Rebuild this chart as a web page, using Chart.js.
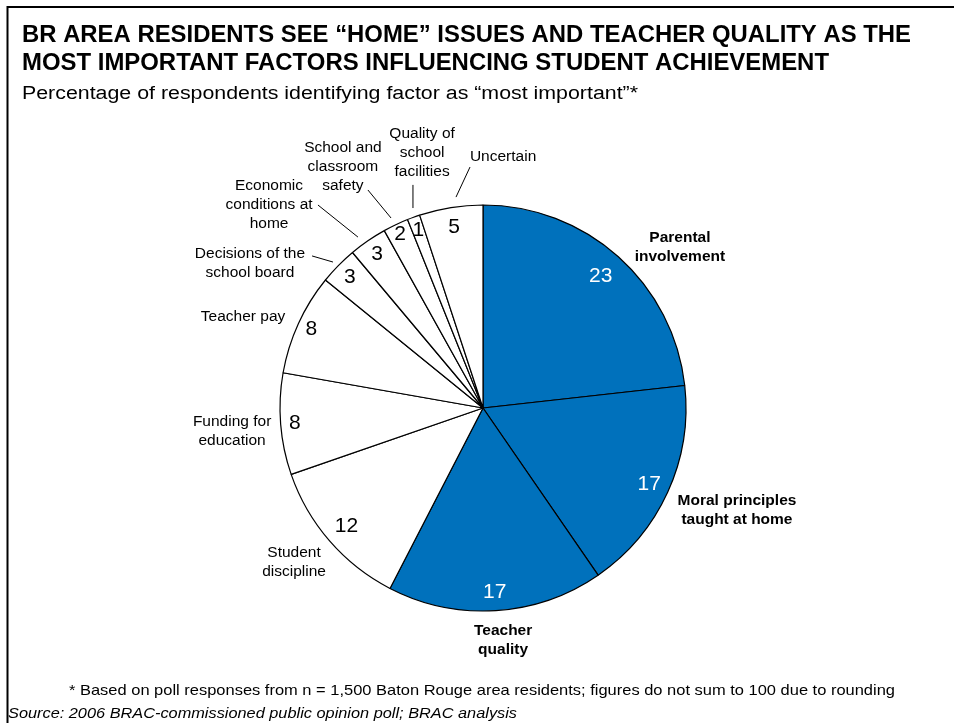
<!DOCTYPE html>
<html>
<head>
<meta charset="utf-8">
<title>BR area residents: factors influencing student achievement</title>
<script src="https://cdn.jsdelivr.net/npm/chart.js@4.4.1/dist/chart.umd.min.js"></script>
<style>
  html, body { margin: 0; padding: 0; background: #fff; }
  #wrap { width: 954px; height: 723px; position: relative; }
  canvas { display: block; }
</style>
</head>
<body>
<div id="wrap"><canvas id="pie" width="954" height="723"></canvas></div>
<script>
// ---- data ----
const categories = [
  'Parental involvement',
  'Moral principles taught at home',
  'Teacher quality',
  'Student discipline',
  'Funding for education',
  'Teacher pay',
  'Decisions of the school board',
  'Economic conditions at home',
  'School and classroom safety',
  'Quality of school facilities',
  'Uncertain'
];
const percentages = [23, 17, 17, 12, 8, 8, 3, 3, 2, 1, 5];
const homeAndTeacher = [true, true, true, false, false, false, false, false, false, false, false];
const nameLines = [
  ['Parental', 'involvement'],
  ['Moral principles', 'taught at home'],
  ['Teacher', 'quality'],
  ['Student', 'discipline'],
  ['Funding for', 'education'],
  ['Teacher pay'],
  ['Decisions of the', 'school board'],
  ['Economic', 'conditions at', 'home'],
  ['School and', 'classroom', 'safety'],
  ['Quality of', 'school', 'facilities'],
  ['Uncertain']
];

// ---- layout of annotations (in units of the pie radius) ----
const BLUE = '#0071BC';
const FONT = '"Liberation Sans", Arial, sans-serif';
// radial position of the value inside each slice
const valueRadius = [0.87, 0.90, 0.91, 0.89, 0.93, 0.93, 0.92, 0.92, 0.95, 0.93, 0.90];
// centre of each category name block, relative to the pie centre
const nameOffset = [
  [0.970, -0.793], [1.251, 0.502], [0.099, 1.143], [-0.931, 0.759],
  [-1.236, 0.113], [-1.182, -0.448], [-1.148, -0.714], [-1.054, -1.000],
  [-0.690, -1.187], [-0.300, -1.256], [0.099, -1.236]
];
// leader lines for the thin slices: [fromX, fromY, toX, toY]
const leaders = [
  null, null, null, null, null, null,
  [-0.739, -0.719, -0.842, -0.749],
  [-0.616, -0.842, -0.813, -1.000],
  [-0.453, -0.936, -0.567, -1.074],
  [-0.345, -0.985, -0.345, -1.099],
  [-0.133, -1.039, -0.064, -1.187]
];

function fitText(ctx, text, x, y, width, align) {
  const w = ctx.measureText(text).width;
  const s = width / w;
  ctx.save();
  ctx.translate(x, y);
  ctx.scale(s, 1);
  ctx.textAlign = align || 'left';
  ctx.fillText(text, 0, 0);
  ctx.restore();
}

const annotations = {
  id: 'annotations',
  afterDraw(chart) {
    const ctx = chart.ctx;
    const arcs = chart.getDatasetMeta(0).data;
    if (!arcs.length) return;
    const cx = arcs[0].x, cy = arcs[0].y, R = arcs[0].outerRadius;

    ctx.save();
    // frame
    ctx.strokeStyle = '#000';
    ctx.lineWidth = 2;
    ctx.beginPath();
    ctx.moveTo(954, 7);
    ctx.lineTo(7.5, 7);
    ctx.lineTo(7.5, 723);
    ctx.stroke();

    // headings
    ctx.fillStyle = '#000';
    ctx.textBaseline = 'alphabetic';
    ctx.font = 'bold 23px ' + FONT;
    fitText(ctx, 'BR AREA RESIDENTS SEE \u201CHOME\u201D ISSUES AND TEACHER QUALITY AS THE', 22, 42, 889);
    fitText(ctx, 'MOST IMPORTANT FACTORS INFLUENCING STUDENT ACHIEVEMENT', 22, 70, 807);
    ctx.font = '18px ' + FONT;
    fitText(ctx, 'Percentage of respondents identifying factor as \u201Cmost important\u201D*', 22, 99, 616);
    ctx.font = '15px ' + FONT;
    fitText(ctx, '* Based on poll responses from n = 1,500 Baton Rouge area residents; figures do not sum to 100 due to rounding', 69, 695, 826);
    ctx.font = 'italic 15px ' + FONT;
    fitText(ctx, 'Source: 2006 BRAC-commissioned public opinion poll; BRAC analysis', 8, 718, 509);

    // values inside slices
    ctx.textAlign = 'center';
    ctx.textBaseline = 'middle';
    ctx.font = '21px ' + FONT;
    arcs.forEach((arc, i) => {
      const mid = (arc.startAngle + arc.endAngle) / 2;
      const r = R * valueRadius[i];
      ctx.fillStyle = homeAndTeacher[i] ? '#fff' : '#000';
      ctx.fillText(String(percentages[i]), cx + Math.cos(mid) * r, cy + Math.sin(mid) * r);
    });

    // leader lines
    ctx.strokeStyle = '#000';
    ctx.lineWidth = 1;
    leaders.forEach(l => {
      if (!l) return;
      ctx.beginPath();
      ctx.moveTo(cx + l[0] * R, cy + l[1] * R);
      ctx.lineTo(cx + l[2] * R, cy + l[3] * R);
      ctx.stroke();
    });

    // category names
    const lh = 19;
    ctx.fillStyle = '#000';
    nameLines.forEach((lines, i) => {
      ctx.font = (homeAndTeacher[i] ? 'bold ' : '') + '15.5px ' + FONT;
      const x = cx + nameOffset[i][0] * R;
      const y0 = cy + nameOffset[i][1] * R - (lines.length - 1) * lh / 2;
      lines.forEach((t, k) => ctx.fillText(t, x, y0 + k * lh));
    });
    ctx.restore();
  }
};

new Chart(document.getElementById('pie'), {
  type: 'pie',
  data: {
    labels: categories,
    datasets: [{
      data: percentages,
      backgroundColor: homeAndTeacher.map(h => h ? BLUE : '#fff'),
      borderColor: '#000',
      borderWidth: 1.2,
      radius: 203,
      hoverOffset: 0,
      offset: 0
    }]
  },
  options: {
    responsive: false,
    animation: false,
    events: [],
    rotation: 0,
    layout: { padding: { left: 280, right: 268, top: 205, bottom: 112 } },
    plugins: {
      legend: { display: false },
      tooltip: { enabled: false },
      title: { display: false }
    }
  },
  plugins: [annotations]
});
</script>
</body>
</html>
